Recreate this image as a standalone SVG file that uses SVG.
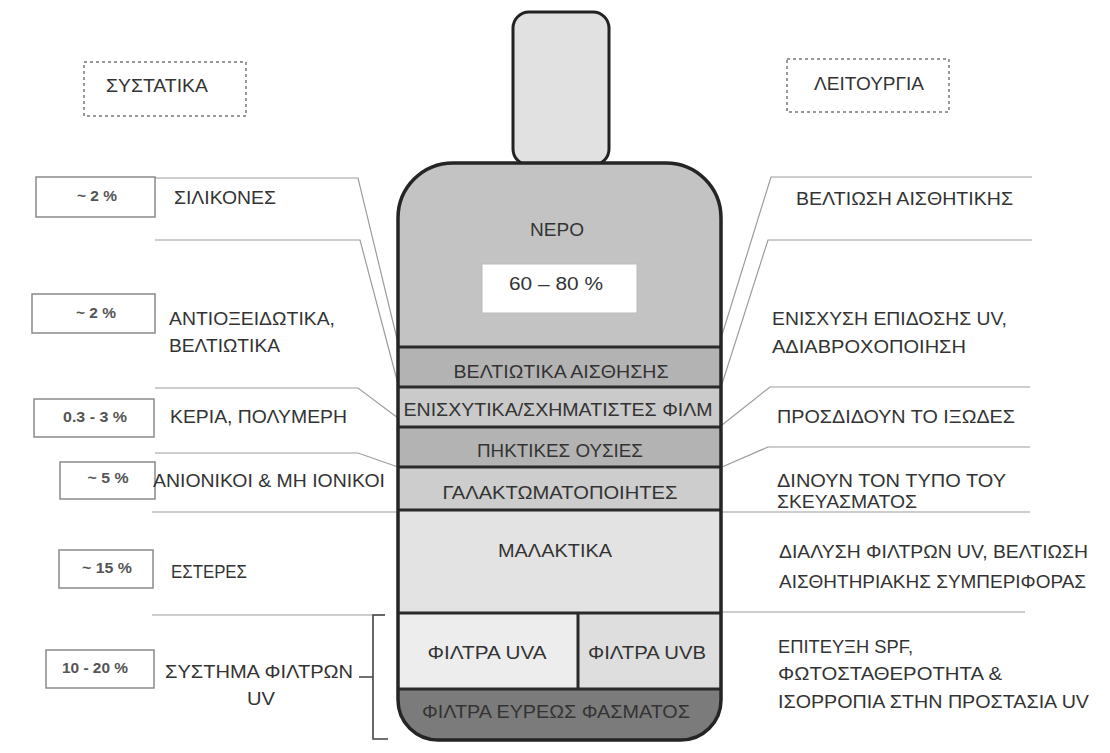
<svg xmlns="http://www.w3.org/2000/svg" width="1110" height="753" viewBox="0 0 1110 753">
<style>
text{font-family:"Liberation Sans",Arial,sans-serif;fill:#333;font-size:18px}
.pc{font-size:14px;font-weight:bold;fill:#555}
.pbox{fill:#fff;stroke:#8a8a8a;stroke-width:1.5}
.dash{fill:#fff;stroke:#777;stroke-width:1.5;stroke-dasharray:3 3}
.lead{fill:none;stroke:#9c9c9c;stroke-width:1.2}
.div{stroke:#2a2a2a;stroke-width:3;fill:none}
.c{text-anchor:middle}
</style>
<defs>
<clipPath id="bodyclip"><path d="M398,218 A55,55 0 0 1 453,163 H666 A55,55 0 0 1 721,218 V700 A40,40 0 0 1 681,740 H438 A40,40 0 0 1 398,700 Z"/></clipPath>
</defs>
<rect width="1110" height="753" fill="#fff"/>

<g id="header-components"><rect class="dash" x="84" y="62" width="162" height="54"/><text x="106" y="92" textLength="102" lengthAdjust="spacingAndGlyphs">ΣΥΣΤΑΤΙΚΑ</text></g>
<g id="header-function"><rect class="dash" x="787" y="59" width="162" height="53"/><text x="814" y="90" textLength="110" lengthAdjust="spacingAndGlyphs">ΛΕΙΤΟΥΡΓΙΑ</text></g>

<g id="connectors">
<path class="lead" d="M155,178 H358 L398,343"/>
<path class="lead" d="M155,240 H360 L398,384"/>
<path class="lead" d="M155,388 H358 L398,418"/>
<path class="lead" d="M155,453 H358 L398,467"/>
<path class="lead" d="M152,512 H398"/>
<path class="lead" d="M152,615 H385"/>
<path class="lead" d="M1032,177 H771 L722,335"/>
<path class="lead" d="M1032,240 H768 L722,384"/>
<path class="lead" d="M1030,387 H770 L722,425"/>
<path class="lead" d="M1030,447 H768 L722,467"/>
<path class="lead" d="M722,512 H1030"/>
<path class="lead" d="M722,612 H1025"/>
<path d="M385,615 H373 V739 H388 M359,677 H373" fill="none" stroke="#444" stroke-width="1.6"/>
</g>

<g id="bottle-cap"><rect x="513" y="12" width="96" height="153" rx="16" fill="#e1e1e1" stroke="#222" stroke-width="3"/></g>

<g id="bottle">
<g clip-path="url(#bodyclip)">
<rect x="390" y="160" width="340" height="187" fill="#c3c3c3"/>
<rect x="390" y="347" width="340" height="40" fill="#b3b3b3"/>
<rect x="390" y="387" width="340" height="40" fill="#cacaca"/>
<rect x="390" y="427" width="340" height="40" fill="#b3b3b3"/>
<rect x="390" y="467" width="340" height="43" fill="#cdcdcd"/>
<rect x="390" y="510" width="340" height="103" fill="#e3e3e3"/>
<rect x="390" y="613" width="188" height="76" fill="#ededed"/>
<rect x="578" y="613" width="152" height="76" fill="#dedede"/>
<rect x="390" y="689" width="340" height="60" fill="#7b7b7b"/>
</g>
<path class="div" d="M398,347 H721 M398,387 H721 M398,427 H721 M398,467 H721 M398,510 H721 M398,613 H721 M398,689 H721 M578,613 V689"/>
<path d="M398,218 A55,55 0 0 1 453,163 H666 A55,55 0 0 1 721,218 V700 A40,40 0 0 1 681,740 H438 A40,40 0 0 1 398,700 Z" fill="none" stroke="#252525" stroke-width="3.5"/>
</g>

<g id="water"><text class="c" x="557" y="236" textLength="54" lengthAdjust="spacingAndGlyphs">ΝΕΡΟ</text><rect x="482" y="264" width="155" height="49" fill="#fff" stroke="#bbb" stroke-width="1"/><text class="c" x="556" y="290" textLength="94" lengthAdjust="spacingAndGlyphs">60 – 80 %</text></g>
<g id="layer-sensory"><text class="c" x="561" y="378" textLength="215" lengthAdjust="spacingAndGlyphs">ΒΕΛΤΙΩΤΙΚΑ ΑΙΣΘΗΣΗΣ</text></g>
<g id="layer-film"><text class="c" x="558" y="416" textLength="309" lengthAdjust="spacingAndGlyphs">ΕΝΙΣΧΥΤΙΚΑ/ΣΧΗΜΑΤΙΣΤΕΣ ΦΙΛΜ</text></g>
<g id="layer-thickeners"><text class="c" x="560" y="457" textLength="166" lengthAdjust="spacingAndGlyphs">ΠΗΚΤΙΚΕΣ ΟΥΣΙΕΣ</text></g>
<g id="layer-emulsifiers"><text class="c" x="560" y="499" textLength="235" lengthAdjust="spacingAndGlyphs">ΓΑΛΑΚΤΩΜΑΤΟΠΟΙΗΤΕΣ</text></g>
<g id="layer-emollients"><text class="c" x="555" y="557" textLength="114" lengthAdjust="spacingAndGlyphs">ΜΑΛΑΚΤΙΚΑ</text></g>
<g id="layer-uva"><text class="c" x="487" y="659" textLength="119" lengthAdjust="spacingAndGlyphs">ΦΙΛΤΡΑ UVA</text></g>
<g id="layer-uvb"><text class="c" x="647" y="659" textLength="118" lengthAdjust="spacingAndGlyphs">ΦΙΛΤΡΑ UVB</text></g>
<g id="layer-broad"><text class="c" x="556" y="718" textLength="268" lengthAdjust="spacingAndGlyphs">ΦΙΛΤΡΑ ΕΥΡΕΩΣ ΦΑΣΜΑΤΟΣ</text></g>

<g id="left-silicones"><rect class="pbox" x="36" y="177" width="119" height="40"/><text class="pc c" x="97" y="201" textLength="40" lengthAdjust="spacingAndGlyphs">~ 2 %</text><text x="174" y="204" textLength="102" lengthAdjust="spacingAndGlyphs">ΣΙΛΙΚΟΝΕΣ</text></g>
<g id="left-antioxidants"><rect class="pbox" x="32" y="294" width="123" height="39"/><text class="pc c" x="96" y="318" textLength="40" lengthAdjust="spacingAndGlyphs">~ 2 %</text><text x="169" y="325" textLength="166" lengthAdjust="spacingAndGlyphs">ΑΝΤΙΟΞΕΙΔΩΤΙΚΑ,</text><text x="169" y="352" textLength="111" lengthAdjust="spacingAndGlyphs">ΒΕΛΤΙΩΤΙΚΑ</text></g>
<g id="left-waxes"><rect class="pbox" x="34" y="399" width="120" height="38"/><text class="pc c" x="95" y="422" textLength="64" lengthAdjust="spacingAndGlyphs">0.3 - 3 %</text><text x="170" y="423" textLength="177" lengthAdjust="spacingAndGlyphs">ΚΕΡΙΑ, ΠΟΛΥΜΕΡΗ</text></g>
<g id="left-ionic"><rect class="pbox" x="60" y="462" width="95" height="37"/><text class="pc c" x="108" y="483" textLength="41" lengthAdjust="spacingAndGlyphs">~ 5 %</text><text x="153" y="487" textLength="232" lengthAdjust="spacingAndGlyphs">ΑΝΙΟΝΙΚΟΙ &amp; ΜΗ ΙΟΝΙΚΟΙ</text></g>
<g id="left-esters"><rect class="pbox" x="59" y="550" width="94" height="38"/><text class="pc c" x="107" y="573" textLength="50" lengthAdjust="spacingAndGlyphs">~ 15 %</text><text x="171" y="578" textLength="76" lengthAdjust="spacingAndGlyphs">ΕΣΤΕΡΕΣ</text></g>
<g id="left-uvsystem"><rect class="pbox" x="46" y="650" width="108" height="38"/><text class="pc c" x="95" y="673" textLength="66" lengthAdjust="spacingAndGlyphs">10 - 20 %</text><text x="165" y="678" textLength="188" lengthAdjust="spacingAndGlyphs">ΣΥΣΤΗΜΑ ΦΙΛΤΡΩΝ</text><text x="247" y="705" textLength="28" lengthAdjust="spacingAndGlyphs">UV</text></g>

<g id="right-aesthetics"><text x="796" y="205" textLength="217" lengthAdjust="spacingAndGlyphs">ΒΕΛΤΙΩΣΗ ΑΙΣΘΗΤΙΚΗΣ</text></g>
<g id="right-uvboost"><text x="772" y="325" textLength="235" lengthAdjust="spacingAndGlyphs">ΕΝΙΣΧΥΣΗ ΕΠΙΔΟΣΗΣ UV,</text><text x="772" y="353" textLength="194" lengthAdjust="spacingAndGlyphs">ΑΔΙΑΒΡΟΧΟΠΟΙΗΣΗ</text></g>
<g id="right-viscosity"><text x="777" y="423" textLength="238" lengthAdjust="spacingAndGlyphs">ΠΡΟΣΔΙΔΟΥΝ ΤΟ ΙΞΩΔΕΣ</text></g>
<g id="right-type"><text x="777" y="487" textLength="229" lengthAdjust="spacingAndGlyphs">ΔΙΝΟΥΝ ΤΟΝ ΤΥΠΟ ΤΟΥ</text><text x="777" y="508" textLength="140" lengthAdjust="spacingAndGlyphs">ΣΚΕΥΑΣΜΑΤΟΣ</text></g>
<g id="right-dissolve"><text x="779" y="558" textLength="309" lengthAdjust="spacingAndGlyphs">ΔΙΑΛΥΣΗ ΦΙΛΤΡΩΝ UV, ΒΕΛΤΙΩΣΗ</text><text x="779" y="588" textLength="307" lengthAdjust="spacingAndGlyphs">ΑΙΣΘΗΤΗΡΙΑΚΗΣ ΣΥΜΠΕΡΙΦΟΡΑΣ</text></g>
<g id="right-spf"><text x="778" y="653" textLength="135" lengthAdjust="spacingAndGlyphs">ΕΠΙΤΕΥΞΗ SPF,</text><text x="778" y="680" textLength="224" lengthAdjust="spacingAndGlyphs">ΦΩΤΟΣΤΑΘΕΡΟΤΗΤΑ &amp;</text><text x="778" y="708" textLength="311" lengthAdjust="spacingAndGlyphs">ΙΣΟΡΡΟΠΙΑ ΣΤΗΝ ΠΡΟΣΤΑΣΙΑ UV</text></g>
</svg>
